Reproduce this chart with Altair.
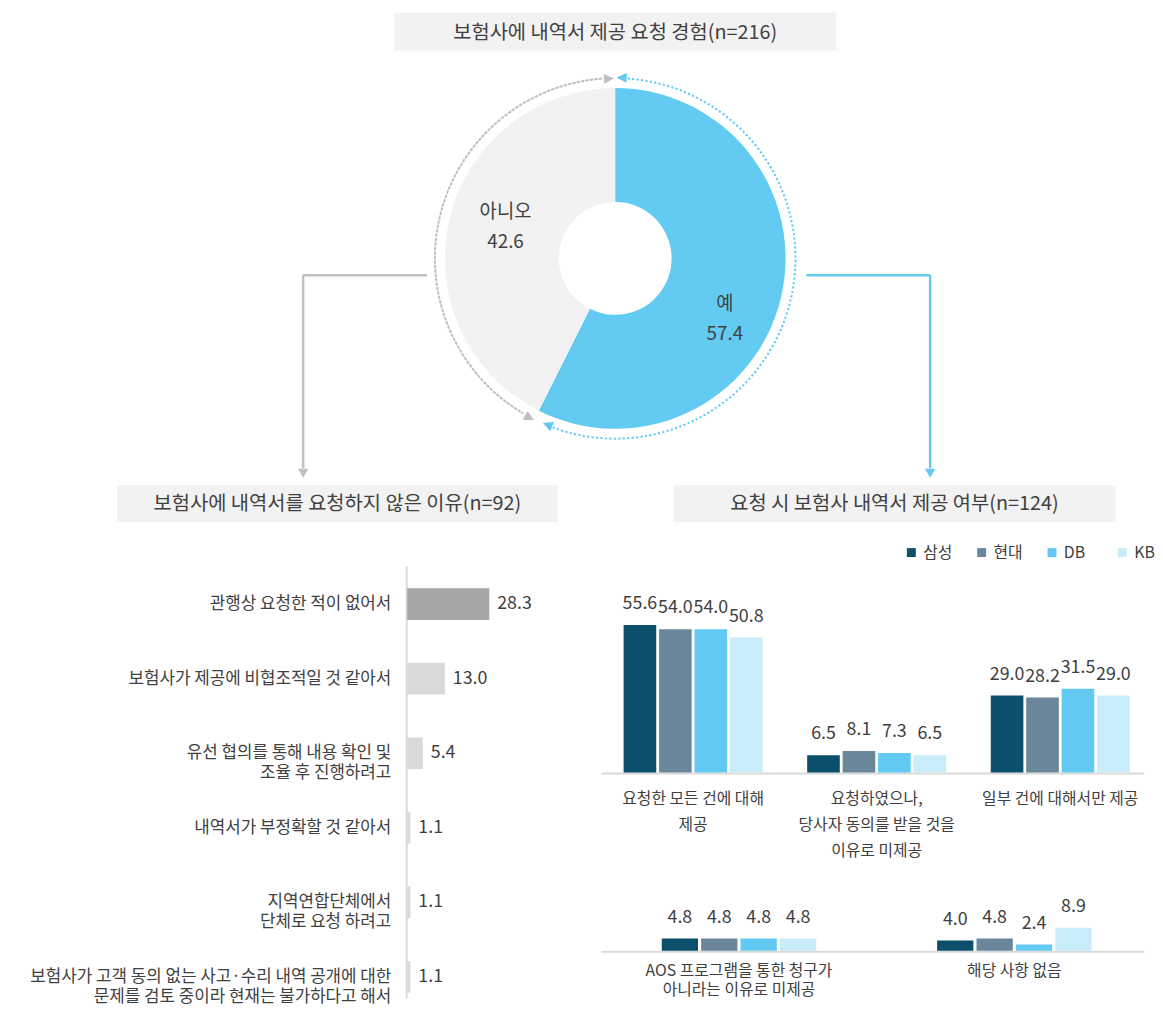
import math
import altair as alt
import pandas as pd

FONT = "Noto Sans CJK KR"
TXT = "#404040"

# ---------------- data ----------------
title_top = "보험사에 내역서 제공 요청 경험(n=216)"
title_left = "보험사에 내역서를 요청하지 않은 이유(n=92)"
title_right = "요청 시 보험사 내역서 제공 여부(n=124)"

donut_labels = ["예", "아니오"]
donut_values = [57.4, 42.6]
donut_colors = ["#63cbf2", "#f2f2f2"]

reasons = [
    "관행상 요청한 적이 없어서",
    "보험사가 제공에 비협조적일 것 같아서",
    "유선 협의를 통해 내용 확인 및\n조율 후 진행하려고",
    "내역서가 부정확할 것 같아서",
    "지역연합단체에서\n단체로 요청 하려고",
    "보험사가 고객 동의 없는 사고·수리 내역 공개에 대한\n문제를 검토 중이라 현재는 불가하다고 해서",
]
reason_values = [28.3, 13.0, 5.4, 1.1, 1.1, 1.1]

companies = ["삼성", "현대", "DB", "KB"]
company_colors = ["#0b4f6b", "#6a869a", "#62caf2", "#c9ecfa"]

cats1 = [
    "요청한 모든 건에 대해\n제공",
    "요청하였으나,\n당사자 동의를 받을 것을\n이유로 미제공",
    "일부 건에 대해서만 제공",
]
samsung1 = [55.6, 6.5, 29.0]
hyundai1 = [54.0, 8.1, 28.2]
db1 = [54.0, 7.3, 31.5]
kb1 = [50.8, 6.5, 29.0]

cats2 = ["AOS 프로그램을 통한 청구가\n아니라는 이유로 미제공", "해당 사항 없음"]
samsung2 = [4.8, 4.0]
hyundai2 = [4.8, 4.8]
db2 = [4.8, 2.4]
kb2 = [4.8, 8.9]


def long_df(cats, series):
    return pd.DataFrame([{"cat": c, "company": comp, "value": v}
                         for comp, vals in zip(companies, series) for c, v in zip(cats, vals)])


p1_df = long_df(cats1, [samsung1, hyundai1, db1, kb1])
p2_df = long_df(cats2, [samsung2, hyundai2, db2, kb2])
donut_df = pd.DataFrame({"label": donut_labels, "value": donut_values, "ord": [0, 1]})
left_df = pd.DataFrame({"reason": reasons, "value": reason_values})
dummy = pd.DataFrame({"k": [0]})

# ---------------- layout (pixels) ----------------
W = 1147
TOP_H = 514
LEFT_W = 591
RIGHT_W = W - LEFT_W
P1_H = 343
P2_H = 138
BOTTOM_H = P1_H + P2_H
CX, CY = 613, 248
DEG = math.pi / 180
GRAY = "#bfbfbf"
BLUE = "#63cbf2"

# ================= top cell =================
top_layers = []
for x0, x1, y0, y1, text in [(390, 836, 0, 38, title_top),
                             (110, 555, 477, 514, title_left),
                             (672, 1118, 477, 514, title_right)]:
    top_layers.append(alt.Chart(dummy).mark_rect(color="#f2f2f2").encode(
        x=alt.value(x0), x2=alt.value(x1), y=alt.value(y0), y2=alt.value(y1)))
    top_layers.append(alt.Chart(dummy).mark_text(
        text=text, font=FONT, fontSize=20, color=TXT, align="center", baseline="middle").encode(
        x=alt.value((x0 + x1) / 2), y=alt.value((y0 + y1) / 2 + 1)))

donut_base = alt.Chart(donut_df).encode(
    theta=alt.Theta("value:Q", stack=True), order=alt.Order("ord:Q"),
    x=alt.value(CX), y=alt.value(CY))
top_layers.append(donut_base.mark_arc(radius=172, radius2=57).encode(
    color=alt.Color("label:N", scale=alt.Scale(domain=donut_labels, range=donut_colors), legend=None)))
top_layers.append(donut_base.transform_calculate(
    t="datum.label + '\\n' + format(datum.value, '.1f')"
).mark_text(radius=120, thetaOffset=9.4 * DEG, font=FONT, fontSize=19, color=TXT,
            lineBreak="\n", lineHeight=30, align="center", baseline="middle").encode(text="t:N"))

yes_end = donut_values[0] / sum(donut_values) * 2 * math.pi
for t0, t1, c in [(yes_end + 4 * DEG, 2 * math.pi - 4 * DEG, GRAY), (4 * DEG, yes_end - 6 * DEG, BLUE)]:
    top_layers.append(alt.Chart(dummy).mark_arc(
        theta=t0, theta2=t1, radius=182, radius2=182, filled=False, stroke=c,
        strokeWidth=2, strokeDash=[2, 2.5]).encode(x=alt.value(CX), y=alt.value(CY)))
for t, rot, c in [(2 * math.pi - 2 * DEG, 358, GRAY), (yes_end + 1.7 * DEG, 28, GRAY),
                  (2 * DEG, 182, BLUE), (yes_end - 4.5 * DEG, 202, BLUE)]:
    top_layers.append(alt.Chart(dummy).mark_text(
        text="▶", theta=t, radius=182, angle=rot, fontSize=13, font="DejaVu Sans", color=c,
        align="center", baseline="middle").encode(x=alt.value(CX), y=alt.value(CY)))
for x0, x1, y0, y1, c in [(298, 423, 265, 265, "#c0c0c0"), (298, 298, 265, 460, "#c0c0c0"),
                          (806, 931, 265, 265, BLUE), (931, 931, 265, 460, BLUE)]:
    top_layers.append(alt.Chart(dummy).mark_rule(color=c, strokeWidth=2.5).encode(
        x=alt.value(x0), x2=alt.value(x1), y=alt.value(y0), y2=alt.value(y1)))
for x, c in [(298, "#c0c0c0"), (931, BLUE)]:
    top_layers.append(alt.Chart(dummy).mark_point(
        shape="triangle-down", filled=True, size=110, color=c, opacity=1).encode(
        x=alt.value(x), y=alt.value(465)))
top = alt.layer(*top_layers).properties(width=W, height=TOP_H)

# ================= left cell =================
ly = alt.Scale(domain=reasons, range=[45.4, 497], paddingInner=0.575, paddingOuter=0.2875)
lx = alt.Scale(domain=[0, 100], range=[403, 696])
left_base = alt.Chart(left_df).encode(y=alt.Y("reason:N", scale=ly, axis=None))
left_bars = left_base.mark_bar().encode(
    x=alt.X("value:Q", scale=lx, axis=None),
    color=alt.condition("datum.value > 20", alt.value("#a6a6a6"), alt.value("#d9d9d9")))
left_labels = left_base.mark_text(
    align="right", baseline="middle", font=FONT, fontSize=17, color=TXT, lineBreak="\n",
    lineHeight=20).encode(x=alt.value(387), text="reason:N")
left_vals = left_base.mark_text(
    align="left", baseline="middle", font=FONT, fontSize=18, color=TXT, dx=8).encode(
    x=alt.X("value:Q", scale=lx, axis=None), text=alt.Text("value:Q", format=".1f"))
left_axis = alt.Chart(dummy).mark_rule(color="#d9d9d9", strokeWidth=2).encode(
    x=alt.value(402.5), y=alt.value(45), y2=alt.value(BOTTOM_H))
left = alt.layer(left_axis, left_bars, left_labels, left_vals).properties(
    width=LEFT_W, height=BOTTOM_H)


# ================= right cells =================
def panel(df, cats, pin, yr, legend, lab_dy, lab_lh, base_y, h):
    xs = alt.Scale(domain=cats, range=[8, 564], paddingInner=pin, paddingOuter=pin / 2)
    xo = alt.Scale(domain=companies, paddingInner=0.08, paddingOuter=0)
    ys = alt.Scale(domain=[0, 100], range=yr)
    base = alt.Chart(df).encode(
        x=alt.X("cat:N", scale=xs, axis=None),
        xOffset=alt.XOffset("company:N", scale=xo),
        y=alt.Y("value:Q", scale=ys, axis=None))
    bars = base.mark_bar().encode(color=alt.Color(
        "company:N", scale=alt.Scale(domain=companies, range=company_colors), legend=legend))
    vals = base.mark_text(dy=-21, align="center", baseline="middle", font=FONT, fontSize=18,
                          color=TXT).encode(text=alt.Text("value:Q", format=".1f"))
    cat_lab = alt.Chart(pd.DataFrame({"cat": cats})).mark_text(
        baseline="top", align="center", lineBreak="\n", lineHeight=lab_lh, dy=lab_dy,
        font=FONT, fontSize=16, color=TXT).encode(
        x=alt.X("cat:N", scale=xs, axis=None),
        y=alt.YDatum(0, type="quantitative", scale=ys), text="cat:N")
    baseline = alt.Chart(dummy).mark_rule(color="#d9d9d9", strokeWidth=2).encode(
        x=alt.value(8), x2=alt.value(RIGHT_W), y=alt.value(base_y))
    return alt.layer(baseline, bars, vals, cat_lab).properties(width=RIGHT_W, height=h)


# the legend is placed in the bottom row's frame (origin at its top-left corner)
legend1 = alt.Legend(orient="none", legendX=904, legendY=23, direction="horizontal", title=None,
                     symbolType="square", symbolSize=81, symbolStrokeWidth=0, labelFont=FONT,
                     labelFontSize=16, labelColor=TXT, labelOffset=4, columnPadding=21,
                     gridAlign="all", padding=0)
p1 = panel(p1_df, cats1, 0.243, [253, -15], legend1, 19, 26, 254, P1_H)
p2 = panel(p2_df, cats2, 0.439, [90, -170], None, 12, 20, 91, P2_H)
right = alt.vconcat(p1, p2, spacing=0, bounds="flush").resolve_scale(xOffset="independent")

bottom = alt.hconcat(left, right, spacing=0, bounds="flush")

chart = alt.vconcat(top, bottom, spacing=0, bounds="flush").resolve_scale(
    color="independent"
).properties(padding=0, background="white").configure_view(strokeWidth=0)

chart.save("out.html", embed_options={"renderer": "svg", "actions": False})
